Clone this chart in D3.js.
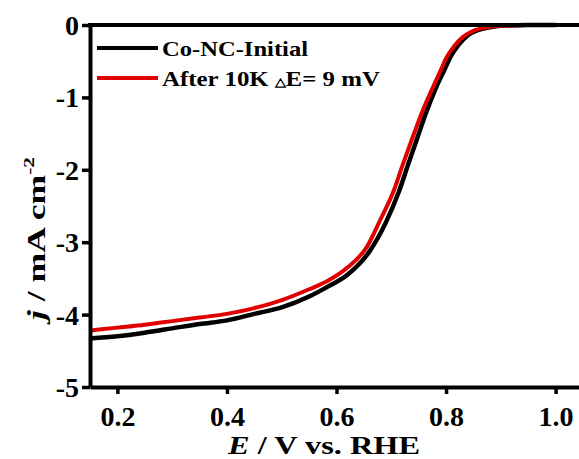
<!DOCTYPE html>
<html>
<head>
<meta charset="utf-8">
<script src="https://cdn.jsdelivr.net/npm/d3@7"></script>
<style>
  body { margin: 0; background: #fff; }
  svg text { font-family: "Liberation Serif", "Times New Roman", serif; font-weight: bold; }
</style>
</head>
<body>
<svg id="chart" width="579" height="459"></svg>
<script>
// potential (V vs RHE) and current density (mA cm^-2)
const initialE = [0.15, 0.20, 0.25, 0.30, 0.35, 0.40, 0.45, 0.50, 0.55, 0.585, 0.62, 0.66, 0.69, 0.714, 0.732, 0.748, 0.764, 0.782, 0.797, 0.808, 0.822, 0.84, 0.858, 0.88, 0.90, 0.95, 1.00];
const initialJ = [-4.33, -4.30, -4.25, -4.19, -4.13, -4.08, -3.99, -3.90, -3.75, -3.61, -3.45, -3.13, -2.73, -2.30, -1.90, -1.55, -1.20, -0.86, -0.62, -0.44, -0.28, -0.14, -0.07, -0.03, -0.01, 0, 0];
const afterE = [0.15, 0.20, 0.25, 0.30, 0.35, 0.40, 0.45, 0.50, 0.55, 0.585, 0.62, 0.655, 0.68, 0.705, 0.72, 0.74, 0.758, 0.776, 0.79, 0.80, 0.815, 0.83, 0.85, 0.875, 0.90, 0.95, 1.00];
const afterJ = [-4.22, -4.18, -4.14, -4.09, -4.04, -3.99, -3.91, -3.80, -3.65, -3.53, -3.35, -3.07, -2.69, -2.28, -1.95, -1.53, -1.17, -0.86, -0.63, -0.46, -0.29, -0.17, -0.08, -0.03, -0.01, 0, 0];

const xTicks = [0.2, 0.4, 0.6, 0.8, 1.0];
const yTicks = [0, -1, -2, -3, -4, -5];
const seriesNames = ['Co-NC-Initial', 'After 10K '];

const svg = d3.select('#chart');

const x = d3.scaleLinear().domain([0.15, 1.05]).range([90, 583]);
const y = d3.scaleLinear().domain([-5, 0]).range([387, 25]);

const line = d3.line()
  .x(d => x(d[0]))
  .y(d => y(d[1]))
  .curve(d3.curveMonotoneX);

const initial = initialE.map((e, i) => [e, initialJ[i]]);
const after = afterE.map((e, i) => [e, afterJ[i]]);

// curves
svg.append('path')
  .datum(initial)
  .attr('d', line)
  .attr('fill', 'none')
  .attr('stroke', '#000')
  .attr('stroke-width', 4.5);

svg.append('path')
  .datum(after)
  .attr('d', line)
  .attr('fill', 'none')
  .attr('stroke', '#e00000')
  .attr('stroke-width', 4);

// axes
const xAxis = svg.append('g')
  .attr('transform', `translate(0,${y(-5)})`)
  .call(d3.axisBottom(x).tickValues(xTicks).tickSize(7).tickSizeOuter(0).tickFormat(d3.format('.1f')));

const yAxis = svg.append('g')
  .attr('transform', `translate(${x(0.15)},0)`)
  .call(d3.axisLeft(y).tickValues(yTicks).tickSize(8).tickSizeOuter(0).tickFormat(d => d === 0 ? '0' : '-' + Math.abs(d)));

[xAxis, yAxis].forEach(a => {
  a.attr('font-family', '"Liberation Serif", serif').attr('font-size', 28);
  a.select('.domain').attr('stroke', '#000').attr('stroke-width', 4);
  a.selectAll('.tick line').attr('stroke', '#000').attr('stroke-width', 3.5);
  a.selectAll('.tick text').attr('fill', '#000');
});
xAxis.selectAll('.tick text').attr('dy', '1.05em');
yAxis.selectAll('.tick text').attr('x', -11).attr('dy', '0.34em');

// top frame line at j = 0
svg.append('line')
  .attr('x1', x(0.15) - 2).attr('x2', 579)
  .attr('y1', y(0)).attr('y2', y(0))
  .attr('stroke', '#000').attr('stroke-width', 4);

// axis titles
const xt = svg.append('text')
  .attr('x', 324).attr('y', 454)
  .attr('text-anchor', 'middle')
  .attr('font-size', 25)
  .attr('textLength', 192)
  .attr('lengthAdjust', 'spacingAndGlyphs');
xt.append('tspan').attr('font-style', 'italic').text('E');
xt.append('tspan').text(' / V vs. RHE');

const yt = svg.append('text')
  .attr('transform', 'translate(45,320) rotate(-90)')
  .attr('font-size', 25);
yt.append('tspan').attr('font-style', 'italic').text('j');
yt.append('tspan').text(' / mA cm');
yt.append('tspan').attr('font-size', 15).attr('dy', -11).text('-2');
yt.attr('textLength', 163).attr('lengthAdjust', 'spacingAndGlyphs');

// legend
const legend = svg.append('g');
const legendY = [48, 78];
const legendColors = ['#000', '#e00000'];
seriesNames.forEach((name, i) => {
  legend.append('line')
    .attr('x1', 97).attr('x2', 158)
    .attr('y1', legendY[i]).attr('y2', legendY[i])
    .attr('stroke', legendColors[i]).attr('stroke-width', 4);
});
legend.append('text')
  .attr('x', 162).attr('y', 56)
  .attr('font-size', 21)
  .attr('textLength', 146)
  .attr('lengthAdjust', 'spacingAndGlyphs')
  .text(seriesNames[0]);
const lt = legend.append('text')
  .attr('x', 162).attr('y', 86)
  .attr('font-size', 21);
lt.append('tspan').text(seriesNames[1]);
lt.append('tspan').attr('font-size', 12).text('\u25B3');
lt.append('tspan').text('E= 9 mV');
lt.attr('textLength', 218).attr('lengthAdjust', 'spacingAndGlyphs');
</script>
</body>
</html>
